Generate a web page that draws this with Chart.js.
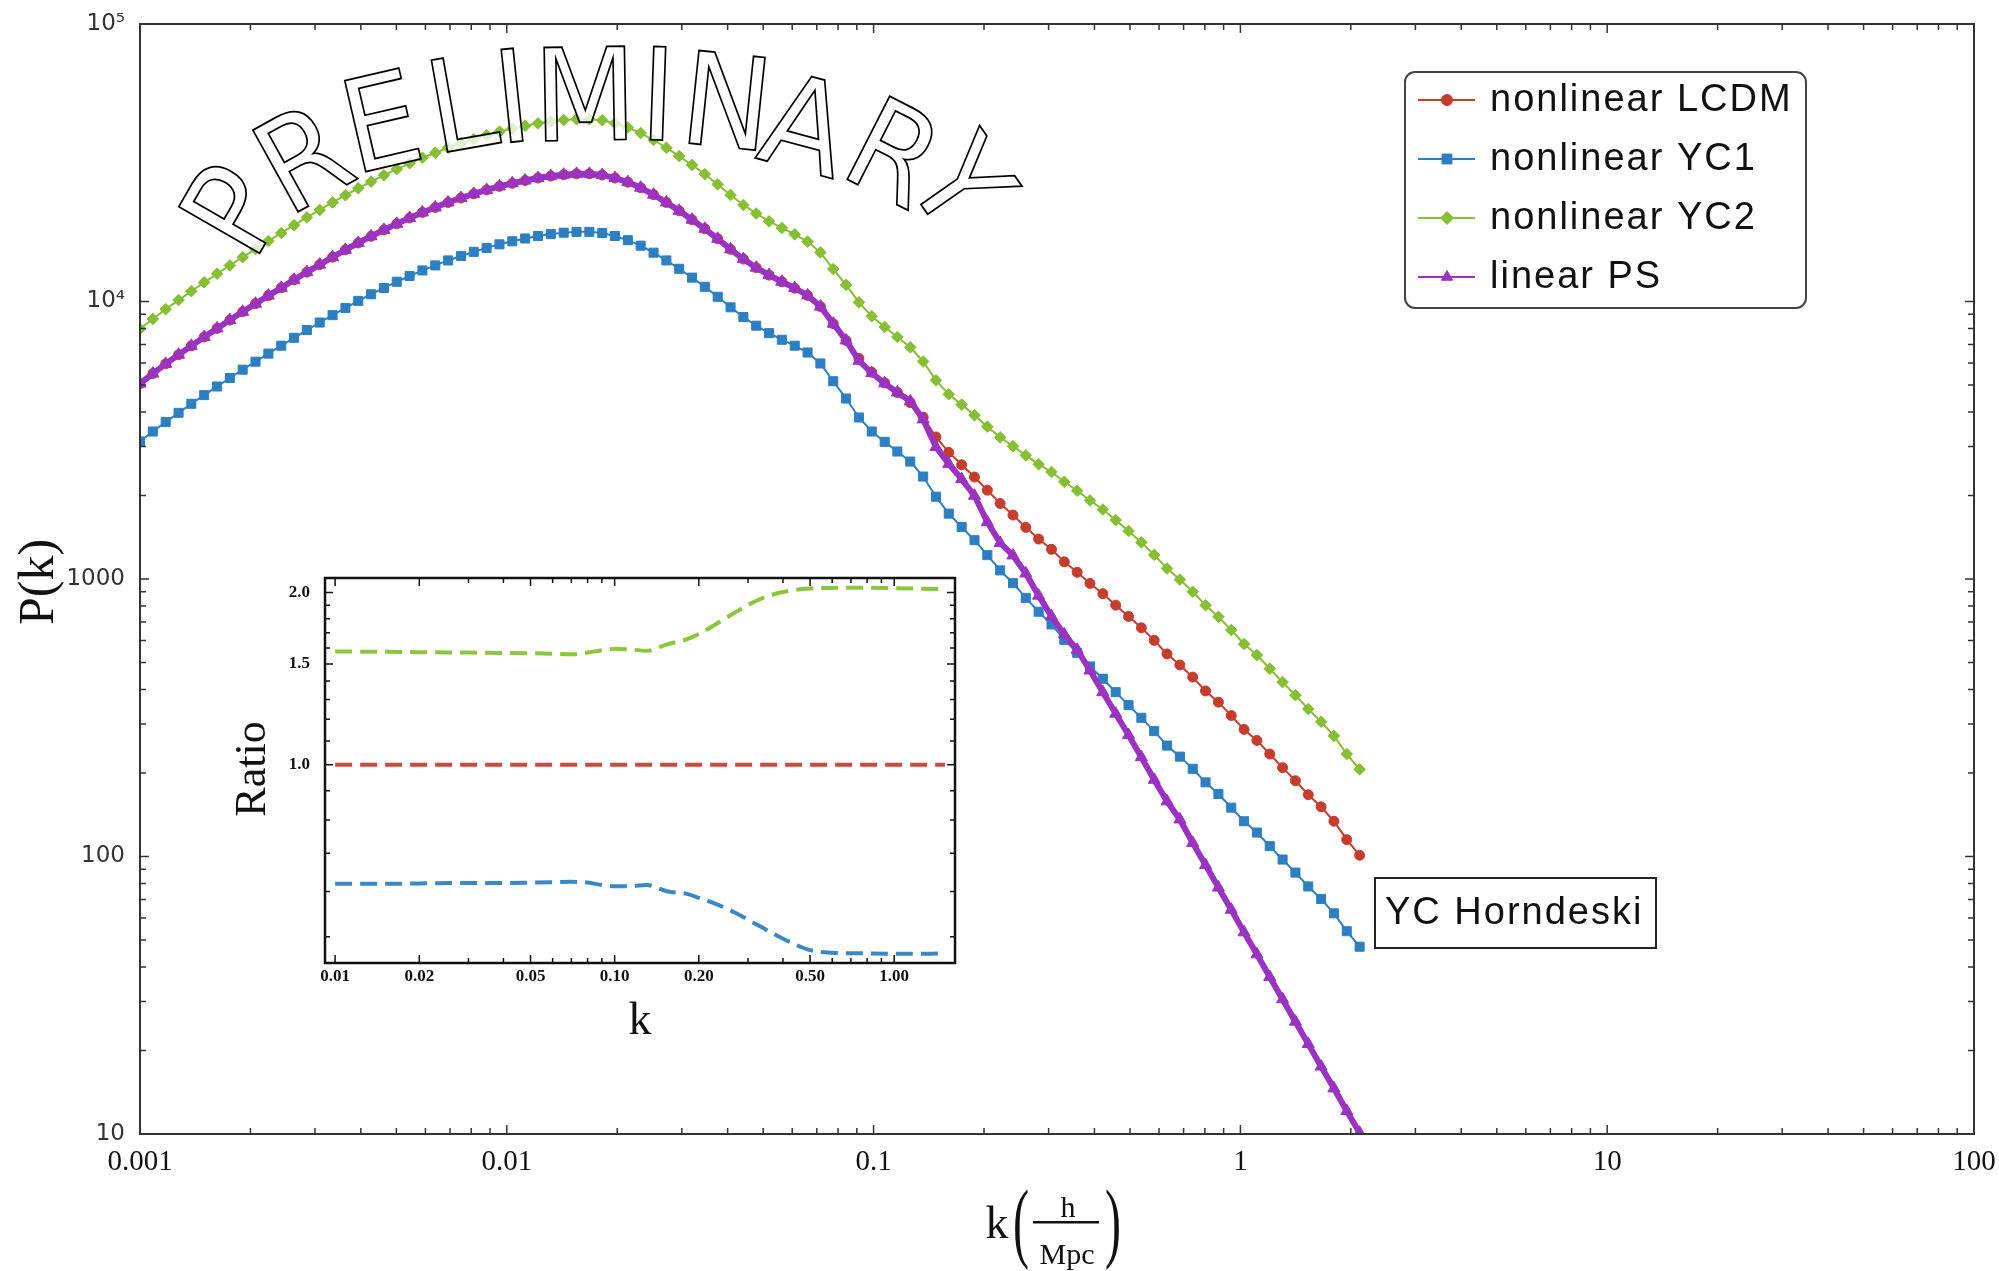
<!DOCTYPE html>
<html>
<head>
<meta charset="utf-8">
<script src="https://cdn.jsdelivr.net/npm/chart.js@4.4.0/dist/chart.umd.min.js"></script>
<style>
  html, body { margin: 0; padding: 0; background: #fff; }
  #wrap { position: relative; width: 1999px; height: 1271px; }
  #main { position: absolute; left: 0; top: 0; width: 1999px; height: 1271px; }
  #inset { position: absolute; left: 200px; top: 540px; width: 780px; height: 520px; }
</style>
</head>
<body>
<div id="wrap">
  <div id="main"><canvas id="mainChart"></canvas></div>
  <div id="inset"><canvas id="insetChart"></canvas></div>
</div>
<script>
// wavenumbers k (h/Mpc) of the main plot
var kValues = [0.001, 0.001084, 0.001175, 0.001274, 0.00138, 0.001496, 0.001622, 0.001758, 0.001905, 0.002065,
  0.002239, 0.002427, 0.00263, 0.002851, 0.00309, 0.00335, 0.003631, 0.003936, 0.004266, 0.004624,
  0.005012, 0.005433, 0.005888, 0.006383, 0.006918, 0.007499, 0.008128, 0.00881, 0.00955, 0.01035,
  0.01122, 0.01216, 0.01318, 0.01429, 0.01549, 0.01679, 0.0182, 0.01972, 0.02138, 0.02317,
  0.02512, 0.02723, 0.02951, 0.03199, 0.03467, 0.03758, 0.04074, 0.04416, 0.04786, 0.05188,
  0.05623, 0.06095, 0.06607, 0.07161, 0.07762, 0.08414, 0.0912, 0.09886, 0.1072, 0.1161,
  0.1259, 0.1365, 0.1479, 0.1603, 0.1738, 0.1884, 0.2042, 0.2213, 0.2399, 0.26,
  0.2818, 0.3055, 0.3311, 0.3589, 0.389, 0.4217, 0.4571, 0.4955, 0.537, 0.5821,
  0.631, 0.6839, 0.7413, 0.8035, 0.871, 0.9441, 1.0233, 1.1092, 1.2023, 1.3032,
  1.4125, 1.5311, 1.6596, 1.7989, 1.9498, 2.1135];

// P(k) of each model
var pLCDM = [5060, 5500, 5960, 6430, 6920, 7450, 8000, 8570, 9180, 9820,
  10500, 11200, 11970, 12760, 13580, 14450, 15350, 16260, 17180, 18110,
  19050, 20000, 20940, 21830, 22750, 23600, 24430, 25240, 26000, 26670,
  27290, 27860, 28310, 28640, 28840, 28840, 28580, 27860, 26920, 25700,
  24270, 22750, 21230, 19720, 18280, 16830, 15420, 14220, 13240, 12450,
  11780, 11170, 10520, 9590, 8320, 7240, 6240, 5560, 5090, 4700,
  4320, 3830, 3250, 2860, 2580, 2330, 2090, 1870, 1700, 1535,
  1393, 1279, 1153, 1057, 964, 885, 805, 733, 667, 601,
  537, 490, 443, 395, 360, 322, 287, 262, 234, 209,
  187.5, 167, 151, 134, 115, 101];

var pYC1 = [3130, 3400, 3680, 3970, 4280, 4600, 4940, 5300, 5680, 6070,
  6490, 6930, 7400, 7890, 8400, 8930, 9480, 10050, 10620, 11190,
  11780, 12360, 12940, 13490, 14060, 14590, 15100, 15600, 16070, 16480,
  16870, 17220, 17500, 17700, 17820, 17820, 17660, 17220, 16630, 15890,
  15000, 14060, 13120, 12190, 11300, 10400, 9530, 8790, 8180, 7690,
  7280, 6930, 6550, 5980, 5160, 4470, 3820, 3400, 3120, 2880,
  2650, 2340, 1980, 1720, 1540, 1380, 1219, 1074, 966, 855,
  762, 686, 604, 542, 484, 437, 391, 351, 316, 283,
  251, 229, 207, 185, 168, 150, 134, 122, 109, 97.5,
  87.5, 78.0, 70.3, 62.4, 53.8, 47.3];

var pYC2 = [7960, 8650, 9380, 10120, 10890, 11720, 12590, 13490, 14450, 15450,
  16520, 17660, 18840, 20090, 21380, 22750, 24150, 25590, 27040, 28510,
  29990, 31480, 32960, 34360, 35810, 37150, 38460, 39720, 40930, 41980,
  42950, 43850, 44570, 45080, 45390, 45390, 44980, 43850, 42360, 40460,
  38190, 35810, 33420, 31050, 28770, 26420, 24210, 22280, 20750, 19450,
  18410, 17460, 16440, 15030, 13090, 11480, 9930, 8850, 8090, 7450,
  6840, 6080, 5200, 4630, 4250, 3890, 3540, 3240, 3010, 2790,
  2590, 2430, 2240, 2080, 1920, 1780, 1630, 1490, 1355, 1222,
  1091, 995, 900, 804, 731, 655, 583, 532, 475, 425,
  381, 340, 306, 272, 234, 206];

var pLinear = [5060, 5500, 5960, 6430, 6920, 7450, 8000, 8570, 9180, 9820,
  10500, 11200, 11970, 12760, 13580, 14450, 15350, 16260, 17180, 18110,
  19050, 20000, 20940, 21830, 22750, 23600, 24430, 25240, 26000, 26670,
  27290, 27860, 28310, 28640, 28840, 28840, 28580, 27860, 26920, 25700,
  24270, 22750, 21230, 19720, 18280, 16830, 15420, 14220, 13240, 12450,
  11780, 11170, 10520, 9590, 8320, 7240, 6120, 5520, 5070, 4700,
  4370, 3760, 2990, 2600, 2290, 1995, 1603, 1349, 1216, 1047,
  871, 733, 631, 556, 468, 391, 327, 274, 228, 189,
  158, 136, 112, 93.1, 77.3, 64.3, 53.3, 44.4, 36.8, 30.6,
  25.4, 21.1, 17.5, 14.6, 12.1, 10.1];

var xTickValues = [0.001, 0.01, 0.1, 1, 10, 100];
var xTickLabels = ['0.001', '0.01', '0.1', '1', '10', '100'];
var yTickValues = [10, 100, 1000, 10000, 100000];
var yTickLabels = ['10', '100', '1000', '10\u2074', '10\u2075'];

// inset: ratio to nonlinear LCDM
var insetK = [0.01, 0.015, 0.02, 0.03, 0.04, 0.05, 0.06, 0.07, 0.08, 0.09,
  0.1, 0.115, 0.13, 0.155, 0.18, 0.2, 0.23, 0.27, 0.31, 0.36,
  0.43, 0.5, 0.6, 0.75, 1.0, 1.25, 1.52];
var ratioLCDM = [1, 1, 1, 1, 1, 1, 1, 1, 1, 1,
  1, 1, 1, 1, 1, 1, 1, 1, 1, 1,
  1, 1, 1, 1, 1, 1, 1];
var ratioYC1 = [0.619, 0.619, 0.620, 0.621, 0.621, 0.622, 0.623, 0.624, 0.622, 0.616,
  0.613, 0.613, 0.616, 0.600, 0.595, 0.585, 0.571, 0.551, 0.531, 0.510,
  0.488, 0.474, 0.469, 0.468, 0.467, 0.467, 0.468];
var ratioYC2 = [1.577, 1.575, 1.573, 1.570, 1.568, 1.566, 1.563, 1.560, 1.570, 1.585,
  1.594, 1.590, 1.581, 1.625, 1.655, 1.692, 1.760, 1.846, 1.918, 1.978,
  2.016, 2.032, 2.037, 2.038, 2.035, 2.031, 2.027];
var insetXTickValues = [0.01, 0.02, 0.05, 0.1, 0.2, 0.5, 1];
var insetXTickLabels = ['0.01', '0.02', '0.05', '0.10', '0.20', '0.50', '1.00'];
var insetYTickValues = [1, 1.5, 2];
var insetYTickLabels = ['1.0', '1.5', '2.0'];

var RED = '#c43d2d', BLUE = '#2e7fc1', GREEN = '#86be34', PURPLE = '#9a33c1';

function points(xs, ys) {
  return xs.map(function (x, i) { return { x: x, y: ys[i] }; });
}

// minor tick positions (2..9 x 10^n) between min and max
function logMinor(min, max) {
  var out = [];
  for (var e = -4; e <= 3; e++) {
    for (var m = 2; m <= 9; m++) {
      var v = m * Math.pow(10, e);
      if (v > min * 1.0001 && v < max * 0.9999) out.push(v);
    }
  }
  return out;
}

var frameTicks = {
  id: 'frameTicks',
  afterDatasetsDraw: function (chart, args, o) {
    var a = chart.chartArea, ctx = chart.ctx;
    var sx = chart.scales.x, sy = chart.scales.y;
    ctx.save();
    ctx.strokeStyle = o.color;
    ctx.lineWidth = o.tickWidth;
    ctx.beginPath();
    function tx(v, len) {
      var p = sx.getPixelForValue(v);
      ctx.moveTo(p, a.bottom); ctx.lineTo(p, a.bottom - len);
      ctx.moveTo(p, a.top); ctx.lineTo(p, a.top + len);
    }
    function ty(v, len) {
      var p = sy.getPixelForValue(v);
      ctx.moveTo(a.left, p); ctx.lineTo(a.left + len, p);
      ctx.moveTo(a.right, p); ctx.lineTo(a.right - len, p);
    }
    o.xMajor.forEach(function (v) { tx(v, o.major); });
    o.xMinor.forEach(function (v) { tx(v, o.minor); });
    o.yMajor.forEach(function (v) { ty(v, o.major); });
    o.yMinor.forEach(function (v) { ty(v, o.minor); });
    ctx.stroke();
    ctx.lineWidth = o.frameWidth;
    ctx.strokeRect(a.left, a.top, a.right - a.left, a.bottom - a.top);
    ctx.restore();
  }
};

// curved PRELIMINARY stamp, legend, label box and axis titles of the main plot
var mainDecor = {
  id: 'mainDecor',
  afterDraw: function (chart) {
    var ctx = chart.ctx;
    ctx.save();

    var letters = [
      ['P', 232, 209, -60], ['R', 302, 157, -29], ['E', 381, 121, -13], ['L', 461, 103, -10],
      ['I', 512, 96, -6], ['M', 585, 94, -1], ['I', 658, 94, 2], ['N', 727, 101, 6],
      ['A', 806, 124, 15], ['R', 895, 152, 27], ['Y', 962, 183, 55]
    ];
    ctx.font = "128px 'DejaVu Sans'";
    ctx.textAlign = 'center';
    ctx.textBaseline = 'alphabetic';
    ctx.lineJoin = 'miter';
    letters.forEach(function (l) {
      ctx.save();
      ctx.translate(l[1], l[2]);
      ctx.rotate(l[3] * Math.PI / 180);
      ctx.scale(0.94, 1);
      ctx.fillStyle = 'rgba(255,255,255,0.75)';
      ctx.fillText(l[0], 0, 46);
      ctx.strokeStyle = '#000';
      ctx.lineWidth = 1.8;
      ctx.strokeText(l[0], 0, 46);
      ctx.restore();
    });

    // legend
    ctx.beginPath();
    ctx.roundRect(1405, 72, 401, 236, 10);
    ctx.fillStyle = '#fff';
    ctx.fill();
    ctx.strokeStyle = '#444';
    ctx.lineWidth = 2;
    ctx.stroke();
    var rows = [100, 159, 218, 277];
    var sizes = [5.5, 7, 6.5, 6.5];
    ctx.font = "38px 'Liberation Sans'";
    ctx.letterSpacing = '2px';
    ctx.textAlign = 'left';
    ctx.textBaseline = 'middle';
    chart.data.datasets.forEach(function (ds, i) {
      var y = rows[i];
      ctx.strokeStyle = ds.borderColor;
      ctx.lineWidth = 2;
      ctx.beginPath();
      ctx.moveTo(1418, y); ctx.lineTo(1475, y);
      ctx.stroke();
      ctx.fillStyle = ds.borderColor;
      ctx.lineWidth = 1;
      Chart.helpers.drawPoint(ctx, { pointStyle: ds.pointStyle, radius: sizes[i], rotation: 0, borderWidth: 1 }, 1447, y);
      ctx.fillStyle = '#111';
      ctx.fillText(ds.label, 1490, y + 1);
    });

    // model label box
    ctx.strokeStyle = '#222';
    ctx.lineWidth = 2;
    ctx.strokeRect(1375, 878, 281, 70);
    ctx.fillStyle = '#111';
    ctx.fillText('YC Horndeski', 1385, 914);
    ctx.letterSpacing = '0px';

    // axis titles
    ctx.fillStyle = '#111';
    ctx.save();
    ctx.translate(40, 582);
    ctx.rotate(-Math.PI / 2);
    ctx.textAlign = 'center';
    ctx.font = "50px 'Liberation Serif'";
    ctx.fillText('P(k)', 0, 0);
    ctx.restore();

    ctx.textAlign = 'center';
    ctx.textBaseline = 'alphabetic';
    ctx.font = "46px 'Liberation Serif'";
    ctx.fillText('k', 997, 1238);
    ctx.font = "30px 'Liberation Serif'";
    ctx.fillText('h', 1068, 1217);
    ctx.fillText('Mpc', 1067, 1264);
    ctx.fillRect(1033, 1221, 66, 2.5);
    // tall thin brackets
    ctx.font = "48px 'Liberation Serif'";
    ctx.save();
    ctx.translate(0, 1228);
    ctx.scale(1, 1.85);
    ctx.textBaseline = 'middle';
    ctx.fillText('(', 1021, 0);
    ctx.fillText(')', 1113, 0);
    ctx.restore();
    ctx.restore();
  }
};

var insetDecor = {
  id: 'insetDecor',
  afterDraw: function (chart) {
    var ctx = chart.ctx;
    ctx.save();
    ctx.fillStyle = '#111';
    ctx.textAlign = 'center';
    ctx.textBaseline = 'middle';
    ctx.font = "44px 'Liberation Serif'";
    ctx.save();
    ctx.translate(53, 229);
    ctx.rotate(-Math.PI / 2);
    ctx.fillText('Ratio', 0, 0);
    ctx.restore();
    ctx.font = "46px 'Liberation Serif'";
    ctx.fillText('k', 440, 482);
    ctx.restore();
  }
};

function mainSet(label, data, color, style, radius, width, order) {
  return {
    label: label,
    data: points(kValues, data),
    borderColor: color,
    backgroundColor: color,
    pointBackgroundColor: color,
    pointBorderColor: color,
    pointStyle: style,
    pointRadius: radius,
    pointBorderWidth: 1,
    borderWidth: width,
    tension: 0,
    order: order
  };
}

new Chart(document.getElementById('mainChart').getContext('2d'), {
  type: 'line',
  data: {
    datasets: [
      mainSet('nonlinear LCDM', pLCDM, RED, 'circle', 5, 2, 1),
      mainSet('nonlinear YC1', pYC1, BLUE, 'rect', 6.4, 2, 1),
      mainSet('nonlinear YC2', pYC2, GREEN, 'rectRot', 5.8, 2, 1),
      mainSet('linear PS', pLinear, PURPLE, 'triangle', 7, 6, 0)
    ]
  },
  options: {
    responsive: true,
    maintainAspectRatio: false,
    animation: false,
    devicePixelRatio: 1,
    layout: { padding: { top: 24, right: 25, left: 0, bottom: 0 } },
    plugins: {
      legend: { display: false },
      tooltip: { enabled: false },
      frameTicks: {
        color: '#333', tickWidth: 1.5, frameWidth: 2, major: 9, minor: 6,
        xMajor: xTickValues, xMinor: logMinor(0.001, 100),
        yMajor: yTickValues, yMinor: logMinor(10, 100000)
      }
    },
    scales: {
      x: {
        type: 'logarithmic',
        min: 0.001,
        max: 100,
        afterBuildTicks: function (axis) { axis.ticks = xTickValues.map(function (v) { return { value: v }; }); },
        afterFit: function (axis) { axis.height = 137; },
        grid: { display: false },
        border: { display: false },
        ticks: {
          autoSkip: false, maxRotation: 0, padding: 3, color: '#111',
          font: { family: "'Liberation Serif'", size: 29 },
          callback: function (v, i) { return xTickLabels[i]; }
        }
      },
      y: {
        type: 'logarithmic',
        min: 10,
        max: 100000,
        afterBuildTicks: function (axis) { axis.ticks = yTickValues.map(function (v) { return { value: v }; }); },
        afterFit: function (axis) { axis.width = 140; },
        grid: { display: false },
        border: { display: false },
        ticks: {
          autoSkip: false, padding: 7, color: '#333',
          font: { family: "'DejaVu Sans'", size: 23 },
          callback: function (v, i) { return yTickLabels[i]; }
        }
      }
    }
  },
  plugins: [frameTicks, mainDecor]
});

function insetSet(label, data, color) {
  return {
    label: label,
    data: points(insetK, data),
    borderColor: color,
    borderWidth: 4,
    borderDash: [17, 8],
    pointRadius: 0,
    tension: 0.4,
    cubicInterpolationMode: 'monotone'
  };
}

new Chart(document.getElementById('insetChart').getContext('2d'), {
  type: 'line',
  data: {
    datasets: [
      insetSet('LCDM', ratioLCDM, '#cc4a3c'),
      insetSet('YC1', ratioYC1, '#3a88c8'),
      insetSet('YC2', ratioYC2, '#8cc63f')
    ]
  },
  options: {
    responsive: true,
    maintainAspectRatio: false,
    animation: false,
    devicePixelRatio: 1,
    layout: { padding: { top: 38, right: 25, left: 0, bottom: 0 } },
    plugins: {
      legend: { display: false },
      tooltip: { enabled: false },
      frameTicks: {
        color: '#111', tickWidth: 1.5, frameWidth: 2.5, major: 8, minor: 5,
        xMajor: insetXTickValues, xMinor: logMinor(0.0092, 1.65),
        yMajor: insetYTickValues,
        yMinor: [0.5, 0.6, 0.7, 0.8, 0.9, 1.1, 1.2, 1.3, 1.4, 1.6, 1.7, 1.8, 1.9]
      }
    },
    scales: {
      x: {
        type: 'logarithmic',
        min: 0.0092,
        max: 1.65,
        afterBuildTicks: function (axis) { axis.ticks = insetXTickValues.map(function (v) { return { value: v }; }); },
        afterFit: function (axis) { axis.height = 97; },
        grid: { display: false },
        border: { display: false },
        ticks: {
          autoSkip: false, maxRotation: 0, padding: -5, color: '#111',
          font: { family: "'Liberation Serif'", size: 17, weight: 'bold' },
          callback: function (v, i) { return insetXTickLabels[i]; }
        }
      },
      y: {
        type: 'logarithmic',
        min: 0.45,
        max: 2.12,
        afterBuildTicks: function (axis) { axis.ticks = insetYTickValues.map(function (v) { return { value: v }; }); },
        afterFit: function (axis) { axis.width = 125; },
        grid: { display: false },
        border: { display: false },
        ticks: {
          autoSkip: false, padding: 7, color: '#111',
          font: { family: "'Liberation Serif'", size: 17, weight: 'bold' },
          callback: function (v, i) { return insetYTickLabels[i]; }
        }
      }
    }
  },
  plugins: [frameTicks, insetDecor]
});
</script>
</body>
</html>
